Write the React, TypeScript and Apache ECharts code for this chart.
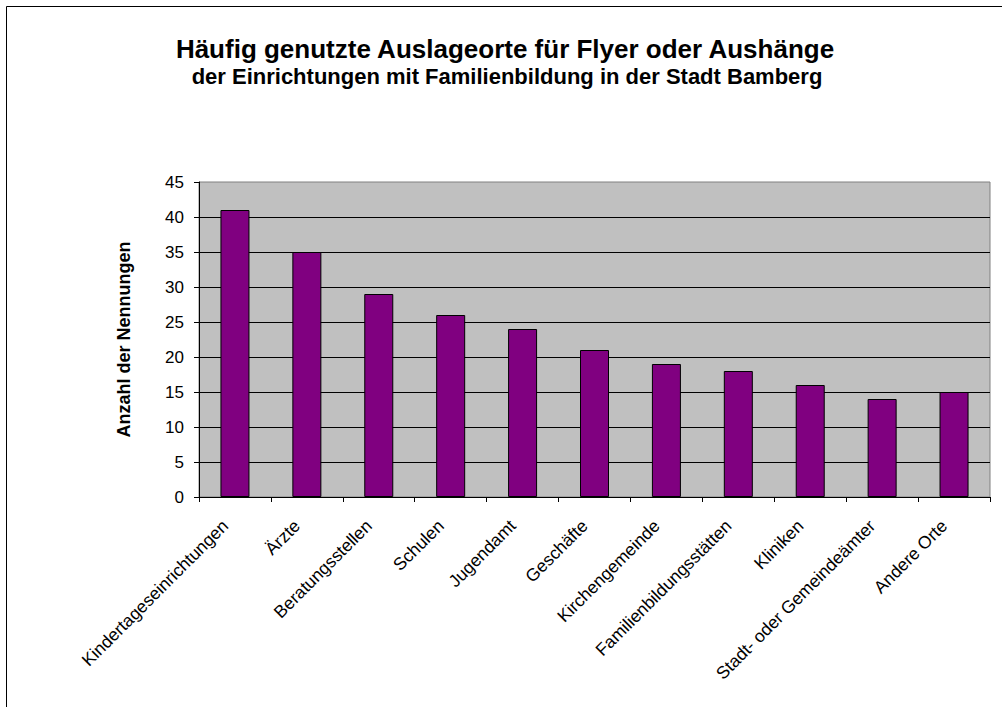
import React, { useEffect, useRef } from "react";
import * as echarts from "echarts";

const titleText = "Häufig genutzte Auslageorte für Flyer oder Aushänge";
const subtitleText = "der Einrichtungen mit Familienbildung in der Stadt Bamberg";
const yAxisName = "Anzahl der Nennungen";
const categories = [
  "Kindertageseinrichtungen",
  "Ärzte",
  "Beratungsstellen",
  "Schulen",
  "Jugendamt",
  "Geschäfte",
  "Kirchengemeinde",
  "Familienbildungsstätten",
  "Kliniken",
  "Stadt- oder Gemeindeämter",
  "Andere Orte",
];
const values = [41, 35, 29, 26, 24, 21, 19, 18, 16, 14, 15];

const FONT = "'Liberation Sans', Arial, sans-serif";

export default function App() {
  const ref = useRef<HTMLDivElement>(null);
  useEffect(() => {
    document.body.style.margin = "0";
    const chart = echarts.init(ref.current!, null, { renderer: "svg" });
    chart.setOption({
      animation: false,
      backgroundColor: "#ffffff",
      textStyle: { fontFamily: FONT },
      title: [
        {
          text: titleText,
          left: 500,
          textAlign: "center",
          top: 31,
          textStyle: { fontFamily: FONT, fontSize: 26, fontWeight: "bold", color: "#000" },
        },
        {
          text: subtitleText,
          left: 502,
          textAlign: "center",
          top: 60,
          textStyle: { fontFamily: FONT, fontSize: 22, fontWeight: "bold", color: "#000" },
        },
      ],
      graphic: [
        {
          type: "rect",
          shape: { x: 6.5, y: 6.5, width: 1010, height: 720 },
          style: { fill: "none", stroke: "#000", lineWidth: 1 },
          silent: true,
        },
      ],
      grid: {
        left: 199,
        top: 182,
        width: 791,
        height: 315,
        show: true,
        backgroundColor: "#c0c0c0",
        borderColor: "#808080",
        borderWidth: 1,
      },
      xAxis: {
        type: "category",
        data: categories,
        axisLine: { show: true, lineStyle: { color: "#000", width: 1 } },
        axisTick: { show: true, alignWithLabel: false, length: 5, lineStyle: { color: "#000" } },
        axisLabel: {
          rotate: 45,
          interval: 0,
          margin: 16,
          padding: [0, 14, 0, 0],
          fontFamily: FONT,
          fontSize: 17.5,
          color: "#000",
        },
      },
      yAxis: {
        type: "value",
        min: 0,
        max: 45,
        interval: 5,
        name: yAxisName,
        nameLocation: "middle",
        nameGap: 66,
        nameTextStyle: { fontFamily: FONT, fontSize: 18, fontWeight: "bold", color: "#000" },
        axisLine: { show: true, lineStyle: { color: "#000", width: 1 } },
        axisTick: { show: true, length: 5, lineStyle: { color: "#000" } },
        axisLabel: { fontFamily: FONT, fontSize: 17, color: "#000", margin: 15 },
        splitLine: { show: true, showMinLine: false, showMaxLine: false, lineStyle: { color: "#000", width: 1 } },
      },
      series: [
        {
          type: "bar",
          data: values,
          barWidth: 29,
          itemStyle: { color: "#800080", borderColor: "#000", borderWidth: 1 },
        },
      ],
    });
    return () => chart.dispose();
  }, []);
  return <div ref={ref} style={{ width: 1002, height: 707 }} />;
}
